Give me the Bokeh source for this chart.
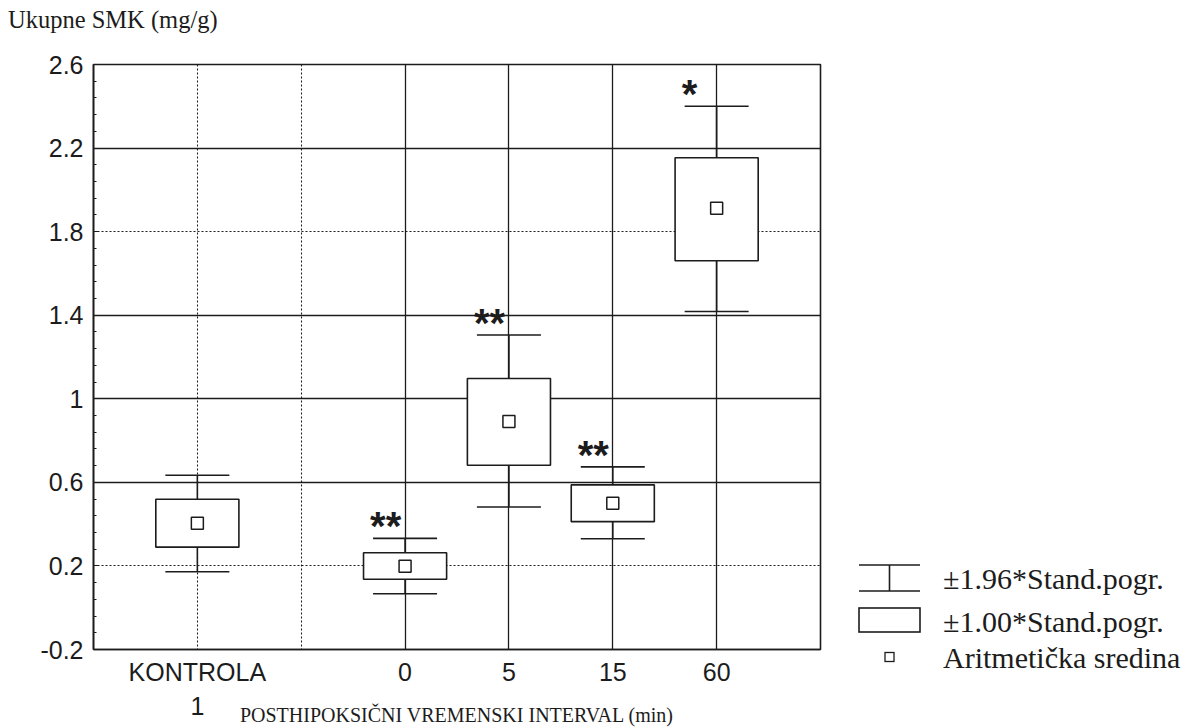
from bokeh.plotting import figure
from bokeh.models import (Range1d, FactorRange, FixedTicker, Grid, Div,
                          ColumnDataSource)
from bokeh.layouts import row, column
from bokeh.embed import file_html
from bokeh.resources import INLINE
from bokeh.core.properties import value

# ---------------- data ----------------
groups = ["KONTROLA\n1", "0", "5", "15", "60"]
mean = [0.404, 0.198, 0.891, 0.500, 1.912]
se_low = [0.290, 0.136, 0.682, 0.412, 1.661]     # mean - 1.00*SE
se_high = [0.519, 0.263, 1.097, 0.588, 2.154]    # mean + 1.00*SE
ci_low = [0.172, 0.067, 0.482, 0.330, 1.418]     # mean - 1.96*SE
ci_high = [0.634, 0.332, 1.305, 0.674, 2.400]    # mean + 1.96*SE
stars = ["", "**", "**", "**", "*"]

y_ticks = [-0.2, 0.2, 0.6, 1.0, 1.4, 1.8, 2.2, 2.6]
y_tick_labels = ["-0.2", "0.2", "0.6", "1", "1.4", "1.8", "2.2", "2.6"]

y_title = "Ukupne SMK (mg/g)"
x_title = "POSTHIPOKSIČNI VREMENSKI INTERVAL (min)"
legend_labels = ["±1.96*Stand.pogr.", "±1.00*Stand.pogr.", "Aritmetička sredina"]

# ---------------- layout helpers ----------------
INK = "#1c1c1c"
factors = [groups[0], " "] + groups[1:]
solid_y = [0.6, 1.0, 1.4, 2.2]
dotted_y = [0.2, 1.8]
dotted_x = factors[:2]
solid_x = factors[2:]

minor = [round(a + k * (b - a) / 5, 4)
         for a, b in zip(y_ticks[:-1], y_ticks[1:]) for k in range(1, 5)]
overrides = {(int(t) if float(t).is_integer() else t): lab
             for t, lab in zip(y_ticks, y_tick_labels)}

PAGE_W, PAGE_H = 1183, 728
TITLE_H = 36
LEFT, TOP, BOTTOM, RIGHT = 93, 64 - TITLE_H, 79, 20
W, H = 840, PAGE_H - TITLE_H

# caption of the y axis, above the plot
title_div = Div(
    text=(f'<div style="padding:6px 0 0 8px;font-family:\'Liberation Serif\';'
          f'font-size:24.5px;line-height:28px;color:{INK};white-space:nowrap">'
          f'{y_title}</div>'),
    width=PAGE_W, height=TITLE_H, styles={"margin": "0", "padding": "0"})

p = figure(x_range=FactorRange(factors=factors, range_padding=0.5,
                               range_padding_units="absolute"),
           y_range=Range1d(y_ticks[0], y_ticks[-1]),
           width=W, height=H,
           min_border_left=LEFT, min_border_right=RIGHT,
           min_border_top=TOP, min_border_bottom=BOTTOM,
           output_backend="svg", toolbar_location=None,
           background_fill_color="white", border_fill_color="white")

p.outline_line_color = INK
p.outline_line_width = 1.6

# grids
p.xgrid.visible = False
p.ygrid.visible = False
p.add_layout(Grid(dimension=1, ticker=FixedTicker(ticks=solid_y),
                  grid_line_color=INK, grid_line_width=1.3))
p.add_layout(Grid(dimension=1, ticker=FixedTicker(ticks=dotted_y),
                  grid_line_color=INK, grid_line_width=1.2, grid_line_dash="2 2"))
p.vspan(x=solid_x, line_color=INK, line_width=1.3)
p.vspan(x=dotted_x, line_color=INK, line_width=1.1, line_dash="2 2")

# y axis
ya = p.yaxis[0]
ya.ticker = FixedTicker(ticks=y_ticks, minor_ticks=minor)
ya.major_label_overrides = overrides
ya.major_label_text_font = "Liberation Sans"
ya.major_label_text_font_size = "25px"
ya.major_label_text_color = INK
ya.major_label_standoff = 10
ya.axis_line_color = INK
ya.axis_line_width = 1.6
ya.major_tick_in = 5
ya.major_tick_out = 0
ya.minor_tick_in = 3
ya.minor_tick_out = 0
ya.major_tick_line_color = INK
ya.minor_tick_line_color = INK

# x axis
xa = p.xaxis[0]
xa.major_tick_in = 0
xa.major_tick_out = 0
xa.axis_line_color = INK
xa.axis_line_width = 1.6
xa.major_label_text_font = "Liberation Sans"
xa.major_label_text_font_size = "25px"
xa.major_label_text_color = INK
xa.major_label_text_line_height = 1.22
xa.major_label_standoff = 8
xa.axis_label = x_title
xa.axis_label_text_font = "Liberation Serif"
xa.axis_label_text_font_size = "20px"
xa.axis_label_text_font_style = "normal"
xa.axis_label_text_color = INK
xa.axis_label_standoff = -19

# ---------------- data glyphs ----------------
src = ColumnDataSource(dict(g=groups, mean=mean, se_low=se_low, se_high=se_high,
                            ci_low=ci_low, ci_high=ci_high))
p.segment(x0="g", y0="ci_low", x1="g", y1="ci_high", source=src,
          line_color=INK, line_width=1.6)
p.scatter(x="g", y="ci_high", source=src, marker="dash", size=64,
          line_color=INK, line_width=1.6)
p.scatter(x="g", y="ci_low", source=src, marker="dash", size=64,
          line_color=INK, line_width=1.6)
p.vbar(x="g", bottom="se_low", top="se_high", width=0.8, source=src,
       fill_color="white", line_color=INK, line_width=1.6)
p.scatter(x="g", y="mean", source=src, marker="square", size=12,
          fill_color="white", line_color=INK, line_width=1.5)

sx = [g for g, s in zip(groups, stars) if s]
sy = [h for h, s in zip(ci_high, stars) if s]
st = [s for s in stars if s]
p.text(x=sx, y=sy, text=st, text_font=value("Liberation Sans"),
       text_font_style="bold", text_font_size="40px", text_color=INK,
       text_align="left", text_baseline="alphabetic", x_offset=-35, y_offset=-12)

# ---------------- legend panel (outside the plot frame) ----------------
LW = PAGE_W - W
ix0, ix1 = 19, 80
ixc = (ix0 + ix1) / 2
oy = TITLE_H
ty = [578 - oy, 621 - oy, 657 - oy]
items = "".join(
    f'<text x="103" y="{y}" dominant-baseline="central" '
    f'style="font-family:\'Liberation Serif\';font-size:30px;fill:{INK}">{t}</text>'
    for y, t in zip(ty, legend_labels))
svg = (
    f'<svg xmlns="http://www.w3.org/2000/svg" width="{LW}" height="{H}" '
    f'style="display:block;overflow:visible">'
    f'<g stroke="{INK}" stroke-width="1.6" fill="white">'
    f'<line x1="{ix0}" y1="{565 - oy}" x2="{ix1}" y2="{565 - oy}"/>'
    f'<line x1="{ix0}" y1="{591 - oy}" x2="{ix1}" y2="{591 - oy}"/>'
    f'<line x1="{ixc}" y1="{565 - oy}" x2="{ixc}" y2="{591 - oy}"/>'
    f'<rect x="{ix0}" y="{608 - oy}" width="{ix1 - ix0}" height="24"/>'
    f'<rect x="{ixc - 4.5}" y="{652.5 - oy}" width="9" height="9" stroke-width="1.3"/>'
    f'</g>{items}</svg>'
)
leg = Div(text=svg, width=LW, height=H, styles={"margin": "0", "padding": "0"})

layout = column(title_div, row(p, leg))
open("out.html", "w").write(file_html(layout, INLINE))
